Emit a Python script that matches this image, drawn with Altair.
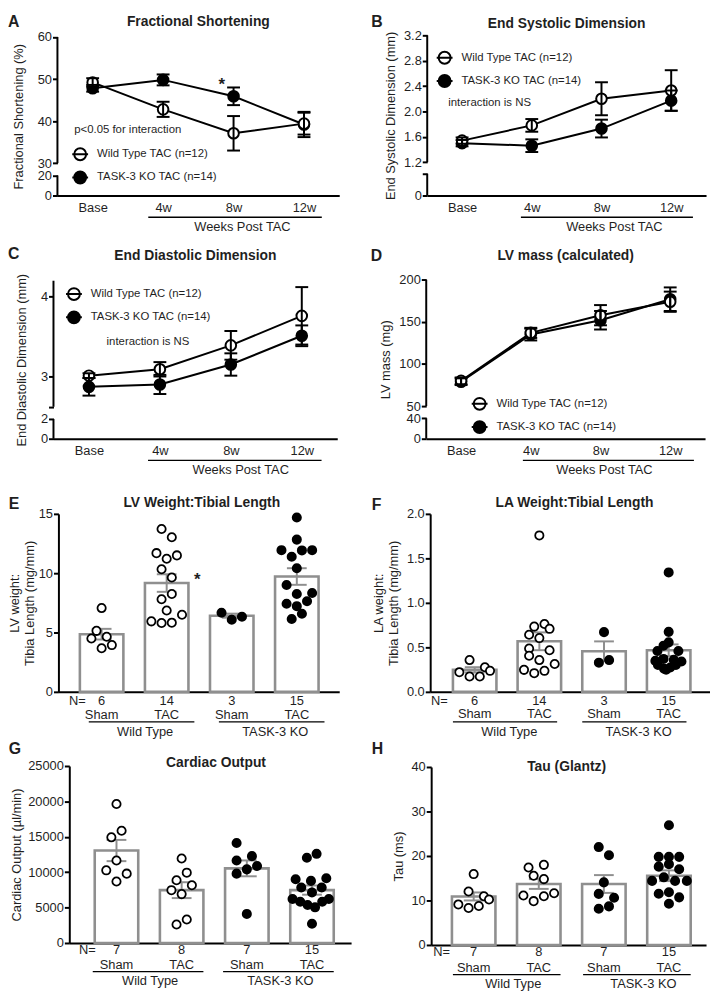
import json
import altair as alt
import pandas as pd

FONT = "Liberation Sans"
INK = "#1f1f1f"
GRAY = "#8f8f8f"
ONE = pd.DataFrame({"k": [0]})

# ---------------- data ----------------
TIME_LABELS = ["Base", "4w", "8w", "12w"]
WT_TAC = "Wild Type TAC (n=12)"
KO_TAC = "TASK-3 KO TAC (n=14)"

# A  Fractional shortening (%)
fs_wt = [49.2, 42.8, 37.1, 39.4]
fs_wt_err = [1.0, 1.8, 4.1, 2.6]
fs_ko = [47.8, 49.8, 45.9, 39.2]
fs_ko_err = [0.8, 1.3, 2.1, 3.0]
# B  End systolic dimension (mm)
esd_wt = [1.54, 1.78, 2.20, 2.33]
esd_wt_err = [0.05, 0.10, 0.26, 0.32]
esd_ko = [1.50, 1.46, 1.73, 2.17]
esd_ko_err = [0.05, 0.10, 0.14, 0.16]
# C  End diastolic dimension (mm)
edd_wt = [3.01, 3.09, 3.39, 3.76]
edd_wt_err = [0.03, 0.09, 0.18, 0.36]
edd_ko = [2.87, 2.90, 3.15, 3.51]
edd_ko_err = [0.11, 0.12, 0.14, 0.13]
# D  LV mass (mg)
lvm_wt = [80, 137, 158, 174]
lvm_wt_err = [4, 6, 12, 12]
lvm_ko = [79, 135, 152, 177]
lvm_ko_err = [4, 7, 11, 14]

BAR_COND = ["Sham", "TAC", "Sham", "TAC"]
BAR_GENO = ["Wild Type", "Wild Type", "TASK-3 KO", "TASK-3 KO"]
GENO_NAMES = ["Wild Type", "TASK-3 KO"]

# E  LV weight : tibia length
lvw_n = [6, 14, 3, 15]
lvw_mean = [4.86, 9.17, 6.42, 9.72]
lvw_sem = [0.45, 0.74, 0.17, 0.70]
lvw_pts = [
    [7.06, 5.14, 4.50, 4.64, 3.67, 3.94],
    [13.72, 13.03, 11.69, 11.22, 11.50, 10.33, 9.64, 8.25, 7.80, 6.86, 6.50, 5.94, 5.80, 5.83],
    [6.67, 6.08, 6.33],
    [14.69, 12.83, 11.94, 11.92, 11.94, 11.39, 10.42, 9.00, 8.25, 8.33, 7.42, 7.64, 7.22, 6.58, 6.14],
]
lvw_slot = [
    [0, -1, -2, 1, 0, 2],
    [-1, 1, -2, 0, 2, -1, 1, 1, -1, 0, 3, -3, -1, 1],
    [-2, 0, 2],
    [0, 0, -3, 1, 3, -1, 0, -2, 0, 3, -2, 2, 0, 1, -1],
]
# F  LA weight : tibia length
law_n = [6, 14, 3, 15]
law_mean = [0.247, 0.568, 0.457, 0.468]
law_sem = [0.03, 0.10, 0.11, 0.065]
law_pts = [
    [0.357, 0.221, 0.173, 0.173, 0.276, 0.236],
    [1.758, 0.733, 0.763, 0.708, 0.641, 0.604, 0.487, 0.468, 0.405, 0.357, 0.247, 0.210, 0.236, 0.313],
    [0.671, 0.328, 0.357],
    [1.342, 0.674, 0.556, 0.519, 0.459, 0.459, 0.370, 0.359, 0.348, 0.341, 0.303, 0.303, 0.274, 0.260, 0.248],
]
law_slot = [
    [-1, -3, -1, 1, 2, 3],
    [0, -1, 1, 2, -2, 0, -2, 2, -2, 0, -3, -1, 1, 3],
    [0, -1, 1],
    [0, 0, 0, -1, -2.2, 1.9, -1, 1, -2.6, 2.5, -2.1, 1.4, 0.3, -0.9, -0.5],
]
# G  Cardiac output (ul/min)
co_n = [7, 8, 7, 15]
co_mean = [13060, 7462, 10540, 7470]
co_sem = [1500, 1120, 1120, 650]
co_pts = [
    [19635, 15858, 14925, 11660, 10260, 9794, 8675],
    [11940, 9934, 8862, 8162, 7462, 6903, 3311, 2612],
    [14132, 12266, 11660, 10867, 10400, 9794, 4104],
    [12031, 12591, 9010, 8772, 9150, 7834, 7834, 7135, 6212, 5834, 5372, 5036, 5834, 6212, 2714],
]
co_slot = [
    [0, 1, -1, 0, -2, 2, 0],
    [0, 1, -1, 2, -2, 0, 1, -1],
    [-2, 1, -2, 2, 0, -2, 0],
    [-1, 0.9, -3.2, -0.2, 2.8, -2.1, 1.9, 0, -3.8, -2.3, -0.85, 0.6, 2, 3.3, 0],
]
# H  Tau (ms)
tau_n = [7, 8, 7, 15]
tau_mean = [10.9, 13.7, 13.7, 15.56]
tau_sem = [0.9, 1.1, 2.0, 1.2]
tau_pts = [
    [15.93, 12.0, 10.96, 10.22, 9.11, 8.30, 8.74],
    [18.0, 17.4, 15.56, 14.8, 11.1, 9.85, 10.96, 11.63],
    [22.0, 20.15, 14.07, 11.48, 10.6, 8.15, 8.67],
    [26.9, 19.8, 19.8, 19.8, 17.6, 18.15, 17.0, 14.4, 15.2, 14.4, 14.4, 11.5, 11.85, 10.7, 9.26],
]
tau_slot = [
    [0, -1, 2, 3, -3, -1, 1],
    [1, -2, -1, 1, -3, -1, 1, 3],
    [-1, 1, 0, -1, 2, -1, 1],
    [0, -2, 0, 2, -2, 0, 2, -3.3, -1, 1.2, 3.5, -2, 0, 2, 0],
]

XLABEL_EXPR = json.dumps(TIME_LABELS) + "[datum.value]"
# circle (drawn with bezier curves) with a horizontal line through it
SYMBOL = ("M-1,0L1,0M-0.75,0C-0.75,-0.4142,-0.4142,-0.75,0,-0.75"
          "C0.4142,-0.75,0.75,-0.4142,0.75,0C0.75,0.4142,0.4142,0.75,0,0.75"
          "C-0.4142,0.75,-0.75,0.4142,-0.75,0Z")
LETTER_SIZE = 16


def text_at(text, x, y, size=13, weight="normal", align="center", baseline="middle"):
    return alt.Chart(ONE).mark_text(
        text=text, font=FONT, fontSize=size, fontWeight=weight, align=align,
        baseline=baseline, color=INK,
    ).encode(x=alt.value(x), y=alt.value(y))


def extent(top, bottom):
    # invisible vertical guide fixing the panel's vertical extent for layout
    return alt.Chart(ONE).mark_rule(opacity=0, strokeWidth=1).encode(
        x=alt.value(0), y=alt.value(-top), y2=alt.value(bottom))


def spacer(w, h=1):
    return alt.Chart(ONE).mark_text(text="", opacity=0).encode(
        x=alt.value(0), y=alt.value(0)).properties(width=w, height=h)


def line_panel(c):
    W, H = c["w"], c["h"]
    step = W / 4.0
    rows = []
    for grp, means, errs in ((KO_TAC, c["ko"], c["ko_err"]), (WT_TAC, c["wt"], c["wt_err"])):
        for i, (m, e) in enumerate(zip(means, errs)):
            rows.append({"group": grp, "t": i, "mean": m, "lo": m - e, "hi": m + e})
    df = pd.DataFrame(rows)
    half = 6.5 / step
    caps = pd.DataFrame([{"cl": r["t"] - half, "cr": r["t"] + half, "v": v}
                         for r in rows for v in (r["lo"], r["hi"])])
    segs = pd.DataFrame({"a": [s[0] for s in c["segs"]], "b": [s[1] for s in c["segs"]]})

    ys = alt.Scale(domain=c["ydom"], range=c["yrng"], zero=False, nice=False)
    akw = dict(values=c["yticks"], domain=False, tickSize=5, labelPadding=1,
               title=c["ytitle"], titlePadding=c.get("tpad", 6), labelOverlap=False, grid=False)
    if c.get("ylab"):
        akw["labelExpr"] = c["ylab"]
    ya = alt.Axis(**akw)
    xs = alt.Scale(domain=[-0.5, 3.5], zero=False, nice=False)
    xa = alt.Axis(values=[0, 1, 2, 3], labelExpr=XLABEL_EXPR, ticks=False, tickSize=0,
                  labelPadding=6, title=None, domain=True, grid=False, labelOverlap=False)

    X = lambda f: alt.X(f, scale=xs, axis=xa)
    Y = lambda f: alt.Y(f, scale=ys, axis=ya)

    axis_line = alt.Chart(segs).mark_rule(color="black", strokeWidth=2).encode(
        x=alt.value(0), y=Y("a:Q"), y2="b:Q")
    lines = alt.Chart(df).mark_line(color="black", strokeWidth=2).encode(
        x=X("t:Q"), y=Y("mean:Q"), detail="group:N")
    leg = alt.Legend(
        title=None, orient="none", legendX=c["legend"][0], legendY=c["legend"][1],
        direction="vertical", symbolType=SYMBOL, symbolSize=256,
        symbolStrokeColor="black", symbolStrokeWidth=2, labelFont=FONT,
        labelFontSize=11.5, labelColor=INK, labelOffset=8, rowPadding=3.5,
        padding=0, symbolOffset=0,
    )
    pts = alt.Chart(df).mark_point(filled=True, size=115, stroke="black", strokeWidth=2,
                                   opacity=1).encode(
        x=X("t:Q"), y=Y("mean:Q"),
        fill=alt.Fill("group:N", scale=alt.Scale(domain=[WT_TAC, KO_TAC], range=["white", "black"]),
                      legend=leg))
    ebar = alt.Chart(df).mark_rule(color="black", strokeWidth=2).encode(
        x=X("t:Q"), y=Y("lo:Q"), y2="hi:Q")
    ecap = alt.Chart(caps).mark_rule(color="black", strokeWidth=2).encode(
        x=X("cl:Q"), x2="cr:Q", y=Y("v:Q"))
    ul = pd.DataFrame({"a": [1 + c["ul"][0] / step], "b": [3 + c["ul"][1] / step],
                       "m": [2 + c["weeks"] / step]})
    underline = alt.Chart(ul).mark_rule(color="black", strokeWidth=1.3).encode(
        x=X("a:Q"), x2="b:Q", y=alt.value(H + 22))
    weeks = alt.Chart(ul).mark_text(text="Weeks Post TAC", font=FONT, fontSize=13, color=INK,
                                    baseline="middle").encode(x=X("m:Q"), y=alt.value(H + 32))
    layers = [extent(c["ext"][0], H + c["ext"][1]), axis_line, lines, pts, ebar, ecap,
              underline, weeks,
              text_at(c["title"][0], c["title"][1], c["title"][2], size=14, weight="bold"),
              text_at(c["letter"][0], c["letter"][1], c["letter"][2], size=LETTER_SIZE,
                      weight="bold", align="left")]
    if c.get("note"):
        layers.append(text_at(c["note"][0], c["note"][1], c["note"][2], size=11.5, align="left"))
    if c.get("star"):
        sd = pd.DataFrame({"t": [c["star"][0]], "v": [c["star"][1]]})
        layers.append(alt.Chart(sd).mark_text(text="*", font=FONT, fontSize=17, fontWeight="bold",
                                              color=INK, dx=c["star"][2], dy=5).encode(
            x=X("t:Q"), y=Y("v:Q")))
    return alt.layer(*layers).properties(width=W, height=H)


def bar_panel(c):
    W, H = c["w"], c["h"]
    lo_d, hi_d = c["xdom"]
    step = W / (hi_d - lo_d)
    hb, hc, sw = 22 / step, 10 / step, 5.17 / step
    bars = pd.DataFrame({"i": list(range(4)), "mean": c["mean"], "err": c["sem"],
                         "n": [str(v) for v in c["n"]], "cond": BAR_COND, "geno": BAR_GENO})
    bars["x0"] = bars["i"] - hb
    bars["x1"] = bars["i"] + hb
    bars["base"] = 0.0
    bars["lo"] = bars["mean"] - bars["err"]
    bars["hi"] = bars["mean"] + bars["err"]
    caps = pd.DataFrame([{"cl": i - hc, "cr": i + hc, "v": v}
                         for i, r in bars.iterrows() for v in (r["lo"], r["hi"])])
    prow = []
    for i, (vals, slots) in enumerate(zip(c["pts"], c["slot"])):
        for v, s in zip(vals, slots):
            prow.append({"geno": BAR_GENO[i], "v": v, "px": i + s * sw})
    pts = pd.DataFrame(prow)
    grp = pd.DataFrame({"geno": GENO_NAMES,
                        "a": [0 + c["ul"][0] / step, 2 + c["ul"][0] / step],
                        "b": [1 + c["ul"][1] / step, 3 + c["ul"][1] / step],
                        "m": [0 + c["glab"] / step, 2 + c["glab"] / step]})

    skw = dict(domain=c["ydom"], zero=False, nice=False)
    if c.get("yrng"):
        skw["range"] = c["yrng"]
    ys = alt.Scale(**skw)
    ya = alt.Axis(values=c["yticks"], format=c["fmt"], tickSize=5, labelPadding=1, domain=True,
                  title=c["ytitle"], titlePadding=c.get("tpad", 6), labelOverlap=False, grid=False)
    xs = alt.Scale(domain=[lo_d, hi_d], zero=False, nice=False)
    xa = alt.Axis(labels=False, ticks=False, tickSize=0, domain=True, title=None, grid=False)
    X = lambda f: alt.X(f, scale=xs, axis=xa)
    Y = lambda f: alt.Y(f, scale=ys, axis=ya)

    r = c["rows"]
    rect = alt.Chart(bars).mark_rect(fill="white", stroke=GRAY, strokeWidth=2.6).encode(
        x=X("x0:Q"), x2="x1:Q", y=Y("mean:Q"), y2="base:Q")
    ebar = alt.Chart(bars).mark_rule(color=GRAY, strokeWidth=2).encode(
        x=X("i:Q"), y=Y("lo:Q"), y2="hi:Q")
    ecap = alt.Chart(caps).mark_rule(color=GRAY, strokeWidth=2).encode(
        x=X("cl:Q"), x2="cr:Q", y=Y("v:Q"))
    dots = alt.Chart(pts).mark_point(filled=True, size=70, stroke="black", strokeWidth=1.8,
                                     opacity=1).encode(
        x=X("px:Q"), y=Y("v:Q"),
        fill=alt.Fill("geno:N", scale=alt.Scale(domain=GENO_NAMES, range=["white", "black"]),
                      legend=None))
    tkw = dict(font=FONT, fontSize=13, color=INK, baseline="middle")
    nlab = alt.Chart(bars).mark_text(**tkw).encode(x=X("i:Q"), y=alt.value(H + r[0]), text="n:N")
    clab = alt.Chart(bars).mark_text(**tkw).encode(x=X("i:Q"), y=alt.value(H + r[1]), text="cond:N")
    uline = alt.Chart(grp).mark_rule(color="black", strokeWidth=1.3).encode(
        x=X("a:Q"), x2="b:Q", y=alt.value(H + r[2]))
    glab = alt.Chart(grp).mark_text(**tkw).encode(x=X("m:Q"), y=alt.value(H + r[3]), text="geno:N")
    layers = [extent(c["ext"][0], H + c["ext"][1]), rect, ebar, ecap, dots, nlab, clab, uline, glab,
              text_at("N=", c["nx"], H + r[0], align="right"),
              text_at(c["title"][0], c["title"][1], c["title"][2], size=14, weight="bold"),
              text_at(c["letter"][0], c["letter"][1], c["letter"][2], size=LETTER_SIZE,
                      weight="bold", align="left")]
    if c.get("star"):
        sd = pd.DataFrame({"i": [c["star"][0]], "v": [c["star"][1]]})
        layers.append(alt.Chart(sd).mark_text(text="*", font=FONT, fontSize=17, fontWeight="bold",
                                              color=INK, dx=c["star"][2], dy=5).encode(
            x=X("i:Q"), y=Y("v:Q")))
    return alt.layer(*layers).properties(width=W, height=H)


A = line_panel(dict(
    w=285, h=162, wt=fs_wt, wt_err=fs_wt_err, ko=fs_ko, ko_err=fs_ko_err,
    ydom=[0, 20, 30, 60], yrng=[162, 141.7, 129.3, 1.7], yticks=[0, 20, 30, 40, 50, 60],
    segs=[(0, 20), (30, 60)], ytitle="Fractional Shortening (%)", legend=(14, 111.3),
    note=("p<0.05 for interaction", 17, 96), letter=("A", -50, -13.5), tpad=12,
    title=("Fractional Shortening", 142.5, -13), ul=(-15, 18), weeks=9, star=(2, 49.8, -12),
    ext=(20, 45)))
B = line_panel(dict(
    w=282, h=162, wt=esd_wt, wt_err=esd_wt_err, ko=esd_ko, ko_err=esd_ko_err,
    ydom=[0, 0.4, 1.2, 3.2], yrng=[162, 140, 128.3, 0],
    yticks=[0, 0.4, 1.2, 1.6, 2.0, 2.4, 2.8, 3.2],
    ylab="datum.value == 0 ? '0' : (datum.value < 1 ? '' : format(datum.value, '.1f'))",
    segs=[(0, 0.4), (1.2, 3.2)], ytitle="End Systolic Dimension (mm)", legend=(8.6, 13.7),
    note=("interaction is NS", 21.3, 68.7), letter=("B", -56.7, -13.5),
    title=("End Systolic Dimension", 141, -11.7), ul=(-11, 22), weeks=13, ext=(20, 45)))
C = line_panel(dict(
    w=287, h=161, wt=edd_wt, wt_err=edd_wt_err, ko=edd_ko, ko_err=edd_ko_err,
    ydom=[0, 2, 2.62, 4.2], yrng=[161, 141, 128.7, 1.2], yticks=[0, 2, 2.62, 3, 4],
    ylab="datum.value == 2.62 ? '' : format(datum.value, 'd')", tpad=12,
    segs=[(0, 2), (2.62, 4.2)], ytitle="End Diastolic Dimension (mm)", legend=(11.7, 5.7),
    note=("interaction is NS", 53.7, 63), letter=("C", -46, -25.3),
    title=("End Diastolic Dimension", 143.5, -24), ul=(-12, 20), weeks=10, ext=(40, 54)))
D = line_panel(dict(
    w=282, h=161, wt=lvm_wt, wt_err=lvm_wt_err, ko=lvm_ko, ko_err=lvm_ko_err,
    ydom=[0, 40, 50, 200], yrng=[161, 140.3, 128, 0.3], yticks=[0, 40, 50, 100, 150, 200],
    segs=[(0, 40), (50, 200)], ytitle="LV mass (mg)", legend=(45, 116.7),
    letter=("D", -56, -24), title=("LV mass (calculated)", 141, -24), ul=(-8, 24), weeks=4,
    ext=(40, 54)))

E = bar_panel(dict(
    w=284, h=180, xdom=[-0.664, 3.652], ydom=[0, 15], yticks=[0, 5, 10, 15], fmt="d",
    ytitle=["LV weight:", "Tibia Length (mg/mm)"], n=lvw_n, mean=lvw_mean, sem=lvw_sem,
    pts=lvw_pts, slot=lvw_slot, ul=(-13, 28), glab=44, rows=(9.5, 23, 30.3, 41), nx=27.7,
    letter=("E", -50.3, -10), title=("LV Weight:Tibial Length", 145, -10.7), star=(1, 9.83, 31),
    ext=(22, 48), tpad=1.5))
F = bar_panel(dict(
    w=283, h=180, xdom=[-0.688, 3.639], ydom=[0, 2], yticks=[0, 0.5, 1, 1.5, 2], fmt=".1f",
    ytitle=["LA weight:", "Tibia Length (mg/mm)"], n=law_n, mean=law_mean, sem=law_sem,
    pts=law_pts, slot=law_slot, ul=(-22, 18), glab=35, rows=(9.3, 22.7, 30.3, 41), nx=17.7,
    letter=("F", -59, -9), title=("LA Weight:Tibial Length", 146, -10.7), ext=(22, 48)))
G = bar_panel(dict(
    w=285, h=179, xdom=[-0.724, 3.60], ydom=[0, 25000],
    yticks=[0, 5000, 10000, 15000, 20000, 25000], fmt="d",
    ytitle="Cardiac Output (\u00b5l/min)", n=co_n, mean=co_mean, sem=co_sem,
    pts=co_pts, slot=co_slot, ul=(-24, 22), glab=34, rows=(7.3, 22.3, 29, 39), nx=26.7,
    letter=("G", -61.3, -17), title=("Cardiac Output", 148.4, -3.3), ext=(27, 46), tpad=4))
Hp = bar_panel(dict(
    w=278, h=181, xdom=[-0.653, 3.57], ydom=[0, 40], yrng=[181, 1], yticks=[0, 10, 20, 30, 40],
    fmt="d", ytitle="Tau (ms)", n=tau_n, mean=tau_mean, sem=tau_sem,
    pts=tau_pts, slot=tau_slot, ul=(-21, 22), glab=40, rows=(6.7, 23.3, 30, 39.3), nx=19,
    letter=("H", -60, -17), title=("Tau (Glantz)", 137, 1), ext=(27, 46)))


def row(*items):
    return alt.hconcat(*items, spacing=0, bounds="flush").resolve_scale(
        fill="independent").resolve_legend(fill="independent")


chart = alt.vconcat(
    row(spacer(4), A, spacer(88.7), B),
    row(C, spacer(90), D),
    row(spacer(4.3), E, spacer(91.7), F),
    row(spacer(15.3), G, spacer(80.7), Hp),
    spacing=0, bounds="full",
).resolve_scale(fill="independent").resolve_legend(fill="independent").properties(
    padding={"left": 0, "top": 0, "right": 0, "bottom": 0}
).configure_view(stroke=None).configure_axis(
    grid=False, domainColor="black", tickColor="black", labelColor=INK, titleColor=INK,
    labelFont=FONT, titleFont=FONT, labelFontSize=13, titleFontSize=13,
    titleFontWeight="normal", domainWidth=2, tickWidth=2,
)

chart.save("out.html", embed_options={"renderer": "svg", "actions": False})
